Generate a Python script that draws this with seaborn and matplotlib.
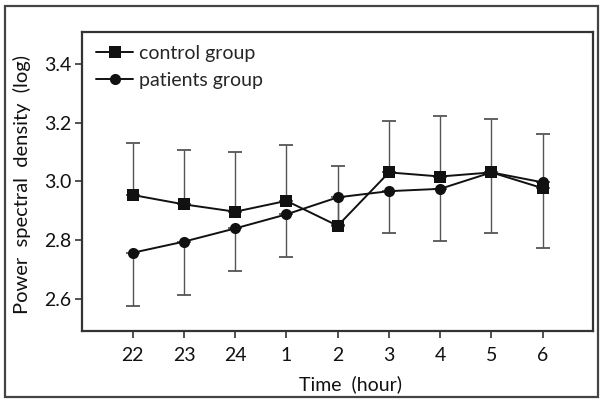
import pandas as pd
import seaborn as sns
import matplotlib.pyplot as plt
from matplotlib.patches import Rectangle

# values
hours = ["22", "23", "24", "1", "2", "3", "4", "5", "6"]
control_mean = [2.953, 2.921, 2.896, 2.933, 2.848, 3.030, 3.016, 3.030, 2.976]
control_upper = [3.130, 3.105, 3.099, 3.123, 3.051, 3.206, 3.223, 3.213, 3.161]
patients_mean = [2.756, 2.794, 2.839, 2.887, 2.945, 2.966, 2.974, 3.030, 2.996]
patients_lower = [2.575, 2.611, 2.695, 2.741, 2.850, 2.822, 2.796, 2.823, 2.771]

pos = list(range(len(hours)))
df = pd.DataFrame({
    "pos": pos * 2,
    "value": control_mean + patients_mean,
    "group": ["control group"] * len(hours) + ["patients group"] * len(hours),
})

sns.set_style("white")
plt.rcParams["font.family"] = ["Lato", "DejaVu Sans"]

fig = plt.figure(figsize=(6.02, 4.0), dpi=100)
ax = fig.add_axes([0.137, 0.173, 0.848, 0.748])

# error bars: control upward, patients downward
err_col = "#555555"
ax.errorbar(pos, control_mean,
            yerr=[[0] * len(pos), [u - m for u, m in zip(control_upper, control_mean)]],
            fmt="none", ecolor=err_col, elinewidth=1.0, capsize=5, capthick=1.3, zorder=1)
ax.errorbar(pos, patients_mean,
            yerr=[[m - l for l, m in zip(patients_lower, patients_mean)], [0] * len(pos)],
            fmt="none", ecolor=err_col, elinewidth=1.0, capsize=5, capthick=1.3, zorder=1)

sns.lineplot(data=df, x="pos", y="value", hue="group", style="group",
             markers={"control group": "s", "patients group": "o"}, dashes=False,
             palette={"control group": "#111111", "patients group": "#111111"},
             markersize=8, markeredgewidth=0, linewidth=1.4, ax=ax, zorder=3)

ax.set_xlim(-0.98, 8.98)
ax.set_ylim(2.49, 3.51)
ax.set_xticks(pos)
ax.set_xticklabels(hours)
ax.set_yticks([2.6, 2.8, 3.0, 3.2, 3.4])
ax.set_yticklabels(["2.6", "2.8", "3.0", "3.2", "3.4"])

for side in ["left", "bottom", "right", "top"]:
    ax.spines[side].set_visible(True)
    ax.spines[side].set_color("#333333")
    ax.spines[side].set_linewidth(1.6)

ax.tick_params(axis="both", direction="out", length=5, width=1.2, color="#333333",
               labelsize=14, labelcolor="#111111", bottom=True, left=True)
ax.tick_params(axis="x", pad=7)
ax.tick_params(axis="y", pad=3)

ax.set_xlabel("Time  (hour)", fontsize=14, color="#111111")
ax.set_ylabel("Power  spectral  density  (log)", fontsize=14.5, color="#111111")
ax.xaxis.set_label_coords(0.525, -0.15)
ax.yaxis.set_label_coords(-0.1, 0.49)

handles, labels = ax.get_legend_handles_labels()
ax.legend(handles, labels, loc="upper left", bbox_to_anchor=(0.0, 1.0), frameon=False,
          fontsize=14, handlelength=1.9, handletextpad=0.3, labelspacing=0.5,
          borderaxespad=0.3)

# outer frame around the whole figure
fig.patches.append(Rectangle((0.008, 0.007), 0.985, 0.978, transform=fig.transFigure,
                             fill=False, edgecolor="#444444", linewidth=1.6))

fig.savefig("out.png", dpi=100)
